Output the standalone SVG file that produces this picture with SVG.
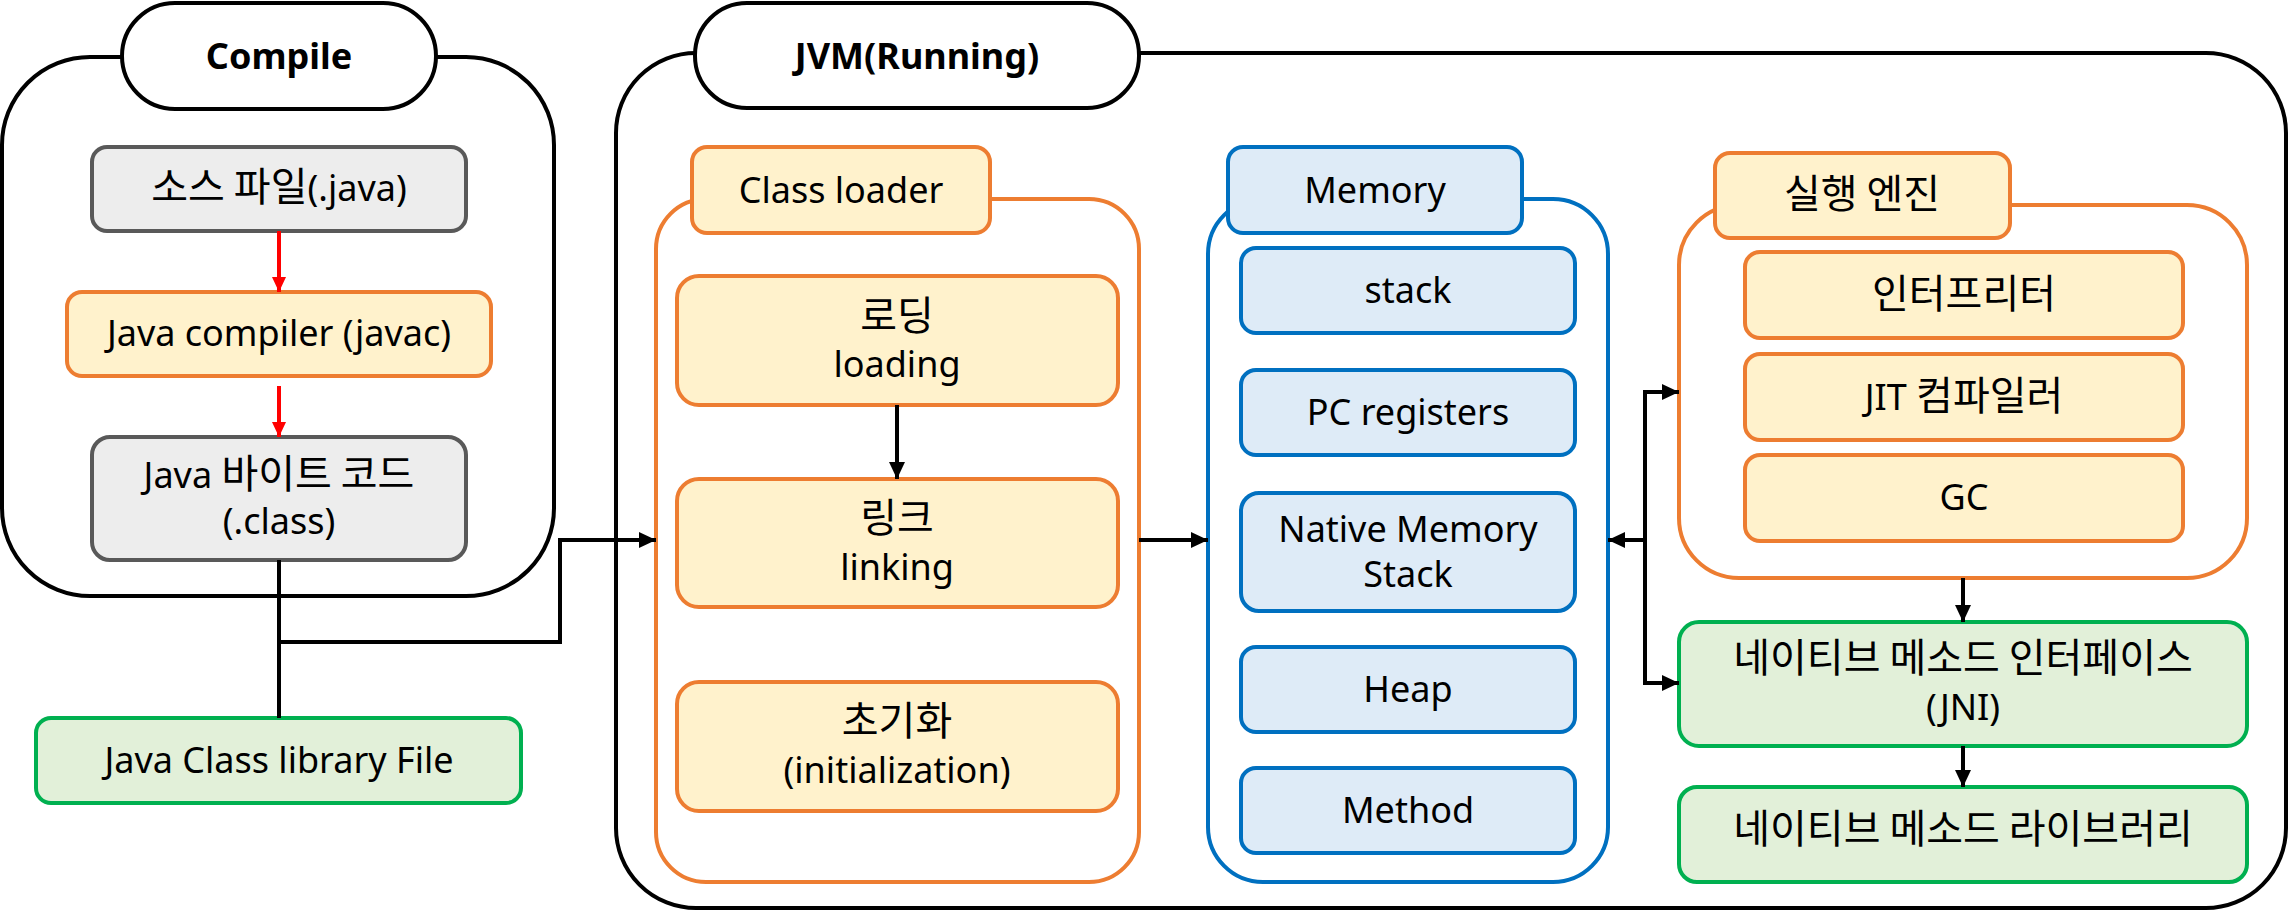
<svg xmlns="http://www.w3.org/2000/svg" width="2290" height="913" viewBox="0 0 2290 913">
<defs>
<style>
.t{font-family:"Noto Sans","Noto Sans CJK KR",sans-serif;font-size:36px;fill:#000;text-anchor:middle}
.k{font-family:"Noto Sans CJK KR",sans-serif;font-size:40px}
.h{font-family:"Noto Sans","Noto Sans CJK KR",sans-serif;font-size:36px;font-weight:bold;fill:#000;text-anchor:middle}
.blk{fill:#fff;stroke:#000;stroke-width:4}
.gray{fill:#EDEDED;stroke:#595959;stroke-width:4}
.org{fill:#FFF2CC;stroke:#ED7D31;stroke-width:4}
.orgc{fill:#fff;stroke:#ED7D31;stroke-width:4}
.blu{fill:#DEEBF7;stroke:#0070C0;stroke-width:4}
.bluc{fill:#fff;stroke:#0070C0;stroke-width:4}
.grn{fill:#E2F0D9;stroke:#00B050;stroke-width:4}
.c{fill:none;stroke:#000;stroke-width:4}
.r{fill:none;stroke:#FF0000;stroke-width:4}
</style>
<marker id="a" markerUnits="userSpaceOnUse" markerWidth="18" markerHeight="16" refX="17" refY="8" orient="auto"><path d="M0,0 L17,8 L0,16 Z" fill="#000"/></marker>
<marker id="ar" markerUnits="userSpaceOnUse" markerWidth="16" markerHeight="14" refX="15" refY="7" orient="auto"><path d="M0,0 L15,7 L0,14 Z" fill="#FF0000"/></marker>
</defs>

<g id="compile-container">
<rect class="blk" x="2" y="57" width="552" height="539" rx="88"/>
<rect class="blk" x="122" y="3" width="314" height="106" rx="53"/>
<text class="h" x="279" y="69">Compile</text>
</g>

<g id="jvm-container">
<rect class="blk" x="616" y="53" width="1670" height="855" rx="80"/>
<rect class="blk" x="695" y="3" width="444" height="105" rx="52"/>
<text class="h" x="917" y="69">JVM(Running)</text>
</g>

<g id="source-file">
<rect class="gray" x="92" y="147" width="374" height="84" rx="15"/>
<text class="t" x="279" y="201"><tspan class="k">소스 파일</tspan>(.java)</text>
</g>
<g id="java-compiler">
<rect class="org" x="67" y="292" width="424" height="84" rx="15"/>
<text class="t" x="279" y="346">Java compiler (javac)</text>
</g>
<g id="bytecode">
<rect class="gray" x="92" y="437" width="374" height="123" rx="18"/>
<text class="t" x="279" y="488">Java <tspan class="k">바이트 코드</tspan></text>
<text class="t" x="279" y="534">(.class)</text>
</g>
<g id="class-library">
<rect class="grn" x="36" y="718" width="485" height="85" rx="15"/>
<text class="t" x="279" y="773">Java Class library File</text>
</g>

<g id="class-loader">
<rect class="orgc" x="656" y="199" width="483" height="683" rx="50"/>
<rect class="org" x="692" y="147" width="298" height="86" rx="15"/>
<text class="t" x="841" y="203">Class loader</text>
</g>
<g id="loading">
<rect class="org" x="677" y="276" width="441" height="129" rx="22"/>
<text class="t" x="897" y="330"><tspan class="k">로딩</tspan></text>
<text class="t" x="897" y="377">loading</text>
</g>
<g id="linking">
<rect class="org" x="677" y="479" width="441" height="128" rx="22"/>
<text class="t" x="897" y="532"><tspan class="k">링크</tspan></text>
<text class="t" x="897" y="580">linking</text>
</g>
<g id="initialization">
<rect class="org" x="677" y="682" width="441" height="129" rx="22"/>
<text class="t" x="897" y="735"><tspan class="k">초기화</tspan></text>
<text class="t" x="897" y="783">(initialization)</text>
</g>

<g id="memory">
<rect class="bluc" x="1208" y="199" width="400" height="683" rx="55"/>
<rect class="blu" x="1228" y="147" width="294" height="86" rx="15"/>
<text class="t" x="1375" y="203">Memory</text>
</g>
<g id="stack">
<rect class="blu" x="1241" y="248" width="334" height="85" rx="15"/>
<text class="t" x="1408" y="303">stack</text>
</g>
<g id="pc-registers">
<rect class="blu" x="1241" y="370" width="334" height="85" rx="15"/>
<text class="t" x="1408" y="425">PC registers</text>
</g>
<g id="native-memory-stack">
<rect class="blu" x="1241" y="493" width="334" height="118" rx="18"/>
<text class="t" x="1408" y="542">Native Memory</text>
<text class="t" x="1408" y="587">Stack</text>
</g>
<g id="heap">
<rect class="blu" x="1241" y="647" width="334" height="85" rx="15"/>
<text class="t" x="1408" y="702">Heap</text>
</g>
<g id="method">
<rect class="blu" x="1241" y="768" width="334" height="85" rx="15"/>
<text class="t" x="1408" y="823">Method</text>
</g>

<g id="execution-engine">
<rect class="orgc" x="1679" y="205" width="568" height="373" rx="60"/>
<rect class="org" x="1715" y="153" width="295" height="85" rx="15"/>
<text class="t" x="1862" y="208"><tspan class="k">실행 엔진</tspan></text>
</g>
<g id="interpreter">
<rect class="org" x="1745" y="252" width="438" height="86" rx="15"/>
<text class="t" x="1964" y="308"><tspan class="k">인터프리터</tspan></text>
</g>
<g id="jit">
<rect class="org" x="1745" y="354" width="438" height="86" rx="15"/>
<text class="t" x="1964" y="410">JIT <tspan class="k">컴파일러</tspan></text>
</g>
<g id="gc">
<rect class="org" x="1745" y="455" width="438" height="86" rx="15"/>
<text class="t" x="1964" y="510">GC</text>
</g>
<g id="jni">
<rect class="grn" x="1679" y="622" width="568" height="124" rx="20"/>
<text class="t" x="1963" y="672"><tspan class="k">네이티브 메소드 인터페이스</tspan></text>
<text class="t" x="1963" y="720">(JNI)</text>
</g>
<g id="native-library">
<rect class="grn" x="1679" y="787" width="568" height="95" rx="18"/>
<text class="t" x="1963" y="843"><tspan class="k">네이티브 메소드 라이브러리</tspan></text>
</g>

<g id="connectors">
<line class="r" x1="279" y1="231" x2="279" y2="292" marker-end="url(#ar)"/>
<line class="r" x1="279" y1="386" x2="279" y2="437" marker-end="url(#ar)"/>
<line class="c" x1="279" y1="560" x2="279" y2="718"/>
<path class="c" d="M279,642 H560 V540 H656" marker-end="url(#a)"/>
<line class="c" x1="897" y1="405" x2="897" y2="479" marker-end="url(#a)"/>
<line class="c" x1="1139" y1="540" x2="1208" y2="540" marker-end="url(#a)"/>
<path class="c" d="M1645,392 V683"/>
<line class="c" x1="1643" y1="392" x2="1679" y2="392" marker-end="url(#a)"/>
<line class="c" x1="1643" y1="683" x2="1679" y2="683" marker-end="url(#a)"/>
<line class="c" x1="1647" y1="540" x2="1608" y2="540" marker-end="url(#a)"/>
<line class="c" x1="1963" y1="578" x2="1963" y2="622" marker-end="url(#a)"/>
<line class="c" x1="1963" y1="746" x2="1963" y2="787" marker-end="url(#a)"/>
</g>
</svg>
